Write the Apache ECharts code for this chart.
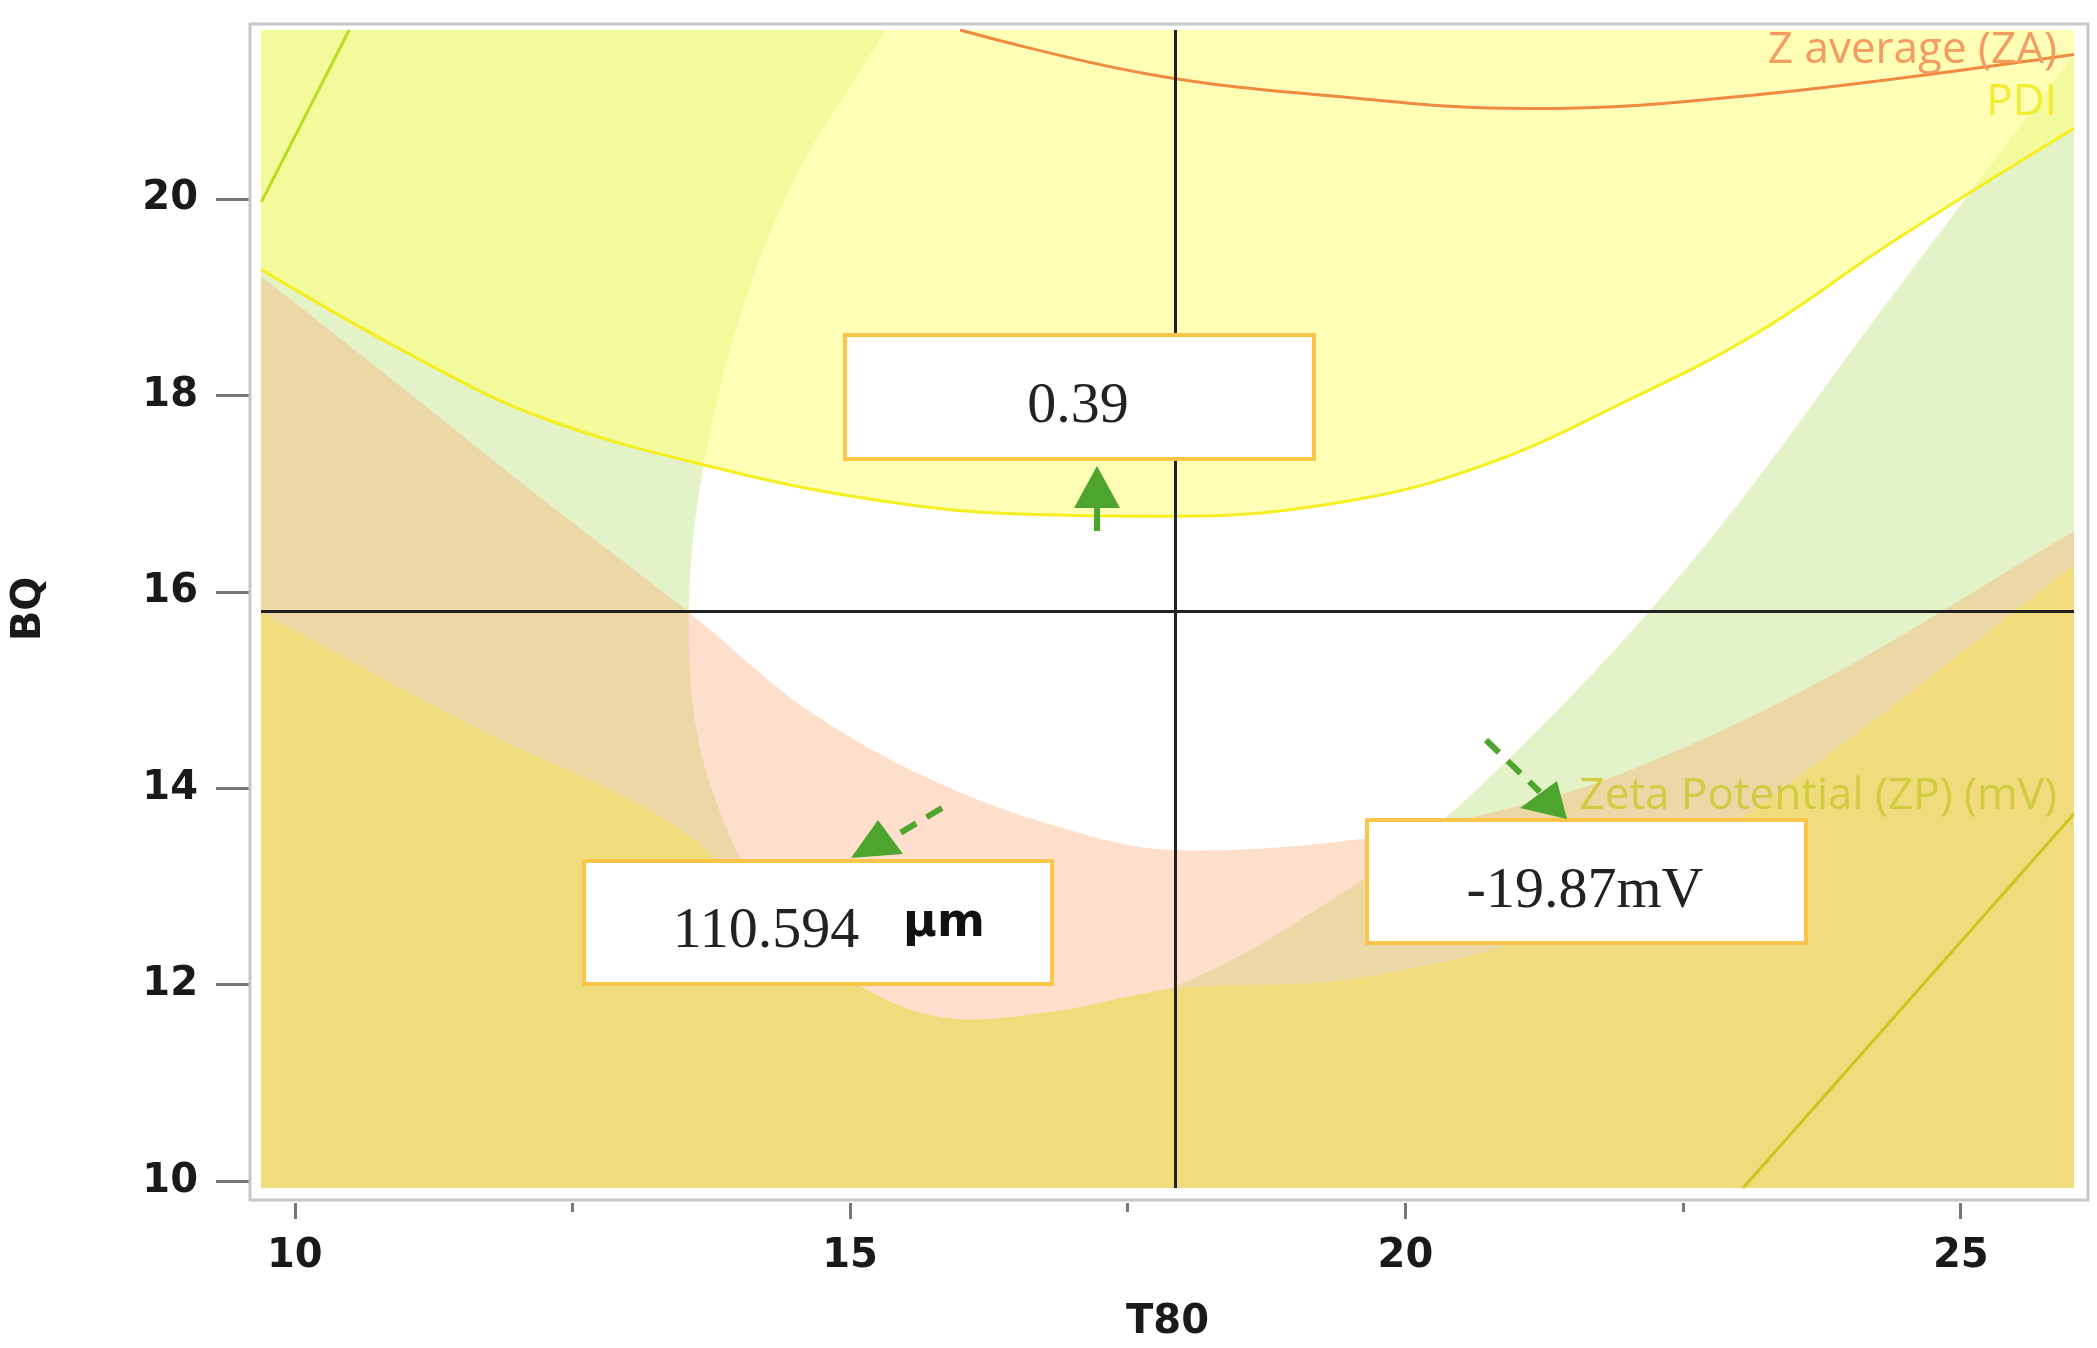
<!DOCTYPE html>
<html><head><meta charset="utf-8">
<script src="https://cdn.jsdelivr.net/npm/echarts@6/dist/echarts.min.js"></script>
<style>html,body{margin:0;padding:0;background:#fff}#c{width:2097px;height:1348px}</style>
</head><body><div id="c"></div>
<script>
// ---- data (T80, BQ) ----
const xTicks = [10, 15, 20, 25];
const xMinorTicks = [12.5, 17.5, 22.5];
const yTicks = [10, 12, 14, 16, 18, 20];
const pdiCurve = [[9.70,19.28],[11.0,18.44],[12.21,17.78],[13.80,17.26],[15.26,16.93],[16.59,16.79],[17.93,16.77],[19.51,16.93],[20.73,17.30],[21.95,17.92],[23.16,18.63],[24.38,19.56],[26.02,20.72]];
const zaCurve = [[15.99,21.72],[17.69,21.27],[19.51,21.03],[21.09,20.92],[23.16,21.06],[26.02,21.47]];
const zpUCurve = [[15.32,21.72],[14.40,19.97],[13.80,17.92],[13.55,15.86],[13.73,14.08],[14.53,12.44],[15.86,11.66],[17.69,11.89],[19.51,12.99],[20.73,14.08],[22.55,16.27],[24.38,19.01],[26.02,21.47]];
const zaLowerCurve = [[9.70,19.21],[11.0,18.05],[12.21,16.96],[13.55,15.79],[14.65,14.77],[15.86,14.02],[17.08,13.54],[17.93,13.37],[19.51,13.47],[20.73,13.74],[21.95,14.15],[23.77,15.11],[26.02,16.62]];
const oliveCurve = [[9.70,15.79],[11.61,14.63],[13.43,13.61],[14.40,12.58],[15.13,11.96],[15.86,11.66],[16.84,11.73],[17.93,11.96],[19.51,12.06],[21.34,12.58],[23.16,13.81],[26.02,16.27]];
const zpLineBR = [[23.04,9.93],[26.02,13.74]];
const zpLineTL = [[9.70,19.97],[10.49,21.72]];
const crossX = 17.93, crossY = 15.8;
const xMin = 9.696, xMax = 26.02, yMin = 9.93, yMax = 21.72;
const valPDI = '0.39', valZA = '110.594', valZP = '-19.87mV';

const TL=[xMin-6,yMax+6], TR=[xMax+6,yMax+6], BR=[xMax+6,yMin-6], BL=[xMin-6,yMin-6];
function poly(name, pts, fill, z){
  return {type:'custom', name, z:z, silent:true, clip:true, data:[0],
    renderItem:(p,api)=>({type:'polygon', shape:{points:pts.map(q=>api.coord(q)), smooth:0.35}, style:{fill:fill, stroke:null}})};
}
function line(name, pts, color, w, z){
  return {type:'line', name, data:pts, z:z, symbol:'none', silent:true, smooth:0.4, lineStyle:{color, width:w}};
}
function ext(a){ // extend curve ends slightly outside the plot
  const f=a[0], s=a[1], l=a[a.length-1], m=a[a.length-2];
  return [[2*f[0]-s[0],2*f[1]-s[1]]].concat(a,[[2*l[0]-m[0],2*l[1]-m[1]]]);
}
const greenPoly = [TL].concat(ext(zpUCurve), [BR, BL]);
const peachPoly = ext(zaLowerCurve).concat([BR, BL]);
const olivePoly = ext(oliveCurve).concat([BR, BL]);
const yellowPoly = ext(pdiCurve).concat([TR, TL]);

const chart = echarts.init(document.getElementById('c'));
const lblFont = {fontFamily:'DejaVu Sans', fontWeight:'bold', fontSize:40, color:'#1a1a1a'};
chart.setOption({
  animation:false, backgroundColor:'#fff',
  grid:{left:261, right:23, top:30, bottom:154},
  xAxis:[{type:'value', min:xMin, max:xMax, offset:15, name:'T80', nameLocation:'middle', nameGap:100,
    nameTextStyle:Object.assign({}, lblFont),
    axisLine:{show:false}, splitLine:{show:false},
    axisTick:{show:true, customValues:xTicks, length:16, lineStyle:{color:'#777', width:3}},
    axisLabel:Object.assign({customValues:xTicks, margin:34}, lblFont)},
   {type:'value', min:xMin, max:xMax, position:'bottom', offset:15, axisLine:{show:false}, splitLine:{show:false},
    axisTick:{show:true, customValues:xMinorTicks, length:9, lineStyle:{color:'#777', width:3}},
    axisLabel:{show:false}}],
  yAxis:{type:'value', min:yMin, max:yMax, offset:11, name:'BQ', nameLocation:'middle', nameGap:200, nameRotate:90,
    nameTextStyle:Object.assign({}, lblFont),
    axisLine:{show:false}, splitLine:{show:false},
    axisTick:{show:true, customValues:yTicks, length:34, lineStyle:{color:'#777', width:3}},
    axisLabel:Object.assign({customValues:yTicks, margin:52}, lblFont)},
  series:[
    poly('ZP', greenPoly, 'rgba(195,228,130,0.45)', 1),
    poly('ZA', peachPoly, 'rgba(250,165,110,0.36)', 2),
    poly('ZPlow', olivePoly, '#f0dc7c', 3),
    poly('PDI', yellowPoly, 'rgba(255,255,120,0.55)', 4),
    line('PDI line', pdiCurve, '#f5ee20', 3, 6),
    line('ZA line', zaCurve, '#f08a40', 3, 6),
    line('ZP line 1', zpLineBR, '#c8c820', 3, 6),
    line('ZP line 2', zpLineTL, '#b8dc20', 3, 6),
    {type:'line', data:[[crossX,yMin],[crossX,yMax]], symbol:'none', z:7, lineStyle:{color:'#222', width:3}},
    {type:'line', data:[[xMin,crossY],[xMax,crossY]], symbol:'none', z:7, lineStyle:{color:'#222', width:3}}
  ],
  graphic:[
    {type:'rect', shape:{x:250,y:24,width:1838,height:1176}, style:{fill:null, stroke:'#c8c8c8', lineWidth:3}, z:100},
    {type:'text', right:40, top:28, style:{text:'Z average (ZA)', font:'44px "Open Sans"', fill:'#f59a60'}, z:100},
    {type:'text', right:40, top:80, style:{text:'PDI', font:'44px "Open Sans"', fill:'#f2ec30'}, z:100},
    {type:'text', right:40, top:774, style:{text:'Zeta Potential (ZP) (mV)', font:'44px "Open Sans"', fill:'#d0cc40'}, z:100},
    // boxes
    {type:'rect', shape:{x:845,y:335,width:469,height:124}, style:{fill:'#fff', stroke:'#fbc54a', lineWidth:4}, z:110},
    {type:'text', x:1078, y:407, style:{text:valPDI, font:'58px "Liberation Serif"', fill:'#222', textAlign:'center', textVerticalAlign:'middle'}, z:111},
    {type:'rect', shape:{x:584,y:861,width:468,height:123}, style:{fill:'#fff', stroke:'#fbc54a', lineWidth:4}, z:110},
    {type:'text', x:766, y:932, style:{text:valZA, font:'58px "Liberation Serif"', fill:'#222', textAlign:'center', textVerticalAlign:'middle'}, z:111},
    {type:'text', x:944, y:924, style:{text:'µm', font:'bold 46px "DejaVu Sans"', fill:'#111', textAlign:'center', textVerticalAlign:'middle'}, z:111},
    {type:'rect', shape:{x:1367,y:820,width:439,height:123}, style:{fill:'#fff', stroke:'#fbc54a', lineWidth:4}, z:110},
    {type:'text', x:1585, y:892, style:{text:valZP, font:'58px "Liberation Serif"', fill:'#222', textAlign:'center', textVerticalAlign:'middle'}, z:111},
    // arrows
    {type:'line', shape:{x1:1097,y1:531,x2:1097,y2:500}, style:{stroke:'#4ea52e', lineWidth:6}, z:112},
    {type:'polygon', shape:{points:[[1097,466],[1074,508],[1120,508]]}, style:{fill:'#4ea52e'}, z:112},
    {type:'line', shape:{x1:942,y1:808,x2:885,y2:842}, style:{stroke:'#4ea52e', lineWidth:6, lineDash:[18,12]}, z:112},
    {type:'polygon', shape:{points:[[851,858],[878,820],[903,854]]}, style:{fill:'#4ea52e'}, z:112},
    {type:'line', shape:{x1:1486,y1:740,x2:1540,y2:792}, style:{stroke:'#4ea52e', lineWidth:6, lineDash:[18,12]}, z:112},
    {type:'polygon', shape:{points:[[1567,819],[1520,808],[1557,781]]}, style:{fill:'#4ea52e'}, z:112}
  ]
});
</script></body></html>
